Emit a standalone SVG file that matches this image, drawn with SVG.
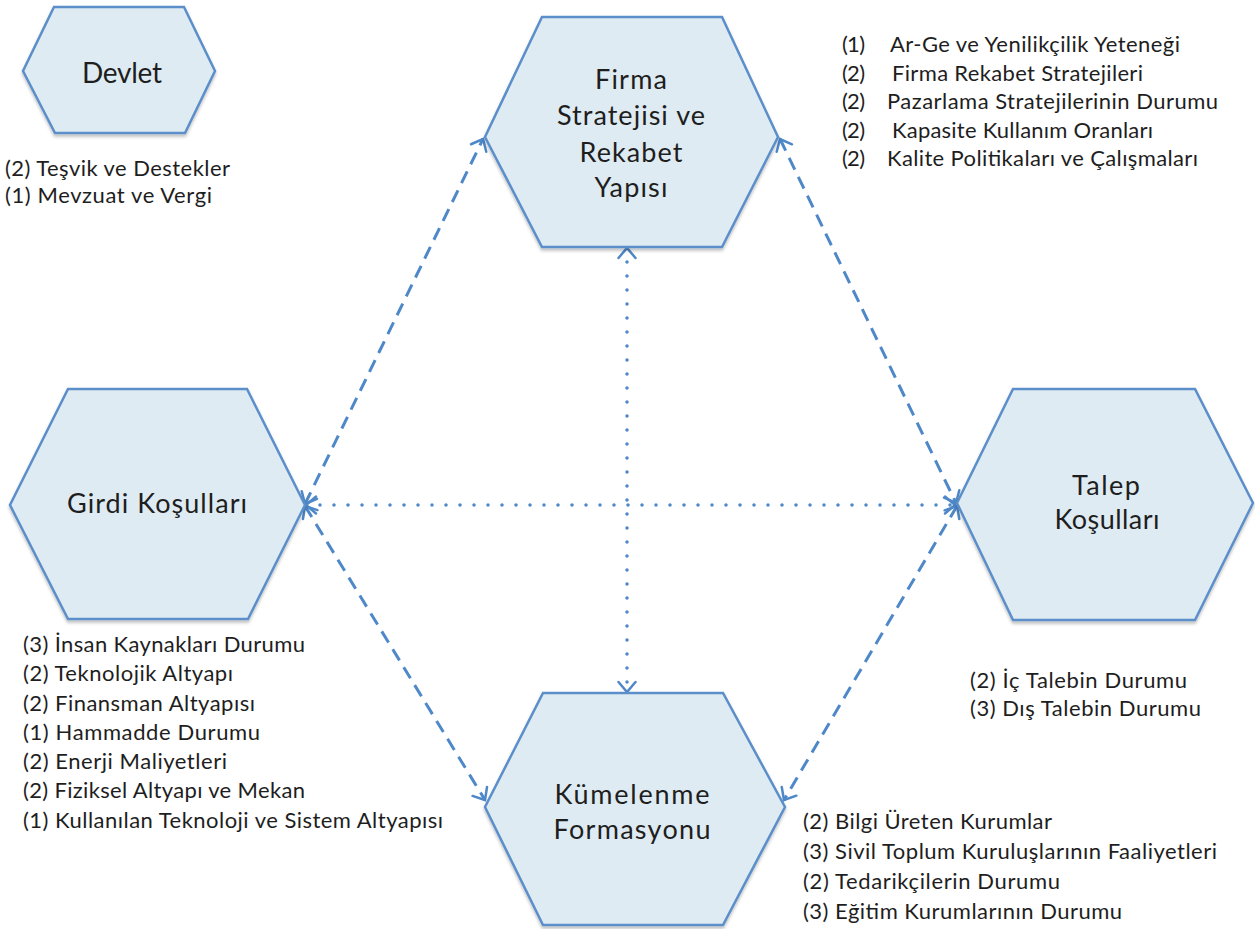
<svg xmlns="http://www.w3.org/2000/svg" width="1255" height="929" viewBox="0 0 1255 929">
  <style>
    .hex { fill: #deebf2; stroke: #5b8fca; stroke-width: 2.5; stroke-linejoin: miter; filter: url(#shadow); }
    .lbl { font-family: Lato, "Liberation Sans", sans-serif; font-size: 27px; fill: #1e1e1e; text-anchor: middle; }
    .big { font-size: 28px; }
    .item { font-family: Lato, "Liberation Sans", sans-serif; font-size: 22px; fill: #1e1e1e; }
    .dash { fill: none; stroke: #4e88c8; stroke-width: 3; stroke-dasharray: 13 8; marker-start: url(#chev); marker-end: url(#chev); }
    .dot { fill: none; stroke: #4e88c8; stroke-width: 3.5; stroke-linecap: round; stroke-dasharray: 0 14; marker-start: url(#chev); marker-end: url(#chev); }
  </style>
  <defs>
    <filter id="shadow" x="-10%" y="-10%" width="120%" height="125%">
      <feDropShadow dx="0" dy="2.5" stdDeviation="1.5" flood-color="#000" flood-opacity="0.25"/>
    </filter>
    <marker id="chev" markerUnits="userSpaceOnUse" viewBox="-2 -2 14 21" markerWidth="14" markerHeight="21" refX="10" refY="8.5" orient="auto-start-reverse">
      <path d="M0,0 L10,8.5 L0,17" fill="none" stroke="#4e88c8" stroke-width="2.5" stroke-dasharray="none" stroke-linecap="round"/>
    </marker>
  </defs>

  <rect width="1255" height="929" fill="#ffffff"/>

  <!-- links between the factor nodes -->
  <g id="connectors">
    <line class="dash" x1="305" y1="504" x2="483" y2="139"/>
    <line class="dash" x1="780" y1="139" x2="956" y2="503"/>
    <line class="dash" x1="305" y1="506" x2="485" y2="800"/>
    <line class="dash" x1="957" y1="506" x2="784" y2="800"/>
    <line class="dot" x1="306" y1="505" x2="955" y2="505"/>
    <line class="dot" x1="627" y1="248" x2="627" y2="692"/>
  </g>

  <g id="devlet">
    <polygon class="hex" points="54,7 184,7 215,71 185,133 55,133 23,71"/>
    <text class="lbl big" x="122" y="83" textLength="80">Devlet</text>
  </g>
  <g id="devlet-items">
    <text class="item" x="5" y="176" textLength="225">(2) Teşvik ve Destekler</text>
    <text class="item" x="5" y="203" textLength="207">(1) Mevzuat ve Vergi</text>
  </g>

  <g id="firma">
    <polygon class="hex" points="542,17 722,17 778,137 722,247 542,247 485,137"/>
    <text class="lbl" x="631" y="89" textLength="72">Firma</text>
    <text class="lbl" x="631" y="125" textLength="148">Stratejisi ve</text>
    <text class="lbl" x="631" y="162" textLength="103">Rekabet</text>
    <text class="lbl" x="631" y="197" textLength="73">Yapısı</text>
  </g>
  <g id="firma-items">
    <text class="item" x="842" y="52" textLength="23">(1)</text>
    <text class="item" x="890" y="52" textLength="290">Ar-Ge ve Yenilikçilik Yeteneği</text>
    <text class="item" x="842" y="81" textLength="23">(2)</text>
    <text class="item" x="892" y="81" textLength="251">Firma Rekabet Stratejileri</text>
    <text class="item" x="842" y="109" textLength="23">(2)</text>
    <text class="item" x="887" y="109" textLength="331">Pazarlama Stratejilerinin Durumu</text>
    <text class="item" x="842" y="138" textLength="23">(2)</text>
    <text class="item" x="892" y="138" textLength="261">Kapasite Kullanım Oranları</text>
    <text class="item" x="842" y="166" textLength="23">(2)</text>
    <text class="item" x="887" y="166" textLength="311">Kalite Politikaları ve Çalışmaları</text>
  </g>

  <g id="girdi">
    <polygon class="hex" points="68,389 247,389 305,505 248,619 68,619 10,505"/>
    <text class="lbl" x="157" y="513" textLength="180">Girdi Koşulları</text>
  </g>
  <g id="girdi-items">
    <text class="item" x="23" y="652" textLength="282">(3) İnsan Kaynakları Durumu</text>
    <text class="item" x="23" y="681" textLength="210">(2) Teknolojik Altyapı</text>
    <text class="item" x="23" y="711" textLength="232">(2) Finansman Altyapısı</text>
    <text class="item" x="23" y="740" textLength="237">(1) Hammadde Durumu</text>
    <text class="item" x="23" y="769" textLength="204">(2) Enerji Maliyetleri</text>
    <text class="item" x="23" y="798" textLength="282">(2) Fiziksel Altyapı ve Mekan</text>
    <text class="item" x="23" y="828" textLength="420">(1) Kullanılan Teknoloji ve Sistem Altyapısı</text>
  </g>

  <g id="talep">
    <polygon class="hex" points="1013,389 1195,389 1253,503 1195,620 1013,620 957,503"/>
    <text class="lbl" x="1106" y="495" textLength="68">Talep</text>
    <text class="lbl" x="1107" y="529" textLength="105">Koşulları</text>
  </g>
  <g id="talep-items">
    <text class="item" x="970" y="688" textLength="217">(2) İç Talebin Durumu</text>
    <text class="item" x="970" y="716" textLength="231">(3) Dış Talebin Durumu</text>
  </g>

  <g id="kumelenme">
    <polygon class="hex" points="543,693 723,693 785,807 723,925 543,925 485,807"/>
    <text class="lbl" x="632" y="804" textLength="155">Kümelenme</text>
    <text class="lbl" x="632" y="839" textLength="157">Formasyonu</text>
  </g>
  <g id="kumelenme-items">
    <text class="item" x="803" y="829" textLength="249">(2) Bilgi Üreten Kurumlar</text>
    <text class="item" x="803" y="859" textLength="414">(3) Sivil Toplum Kuruluşlarının Faaliyetleri</text>
    <text class="item" x="803" y="889" textLength="257">(2) Tedarikçilerin Durumu</text>
    <text class="item" x="803" y="919" textLength="319">(3) Eğitim Kurumlarının Durumu</text>
  </g>
</svg>
